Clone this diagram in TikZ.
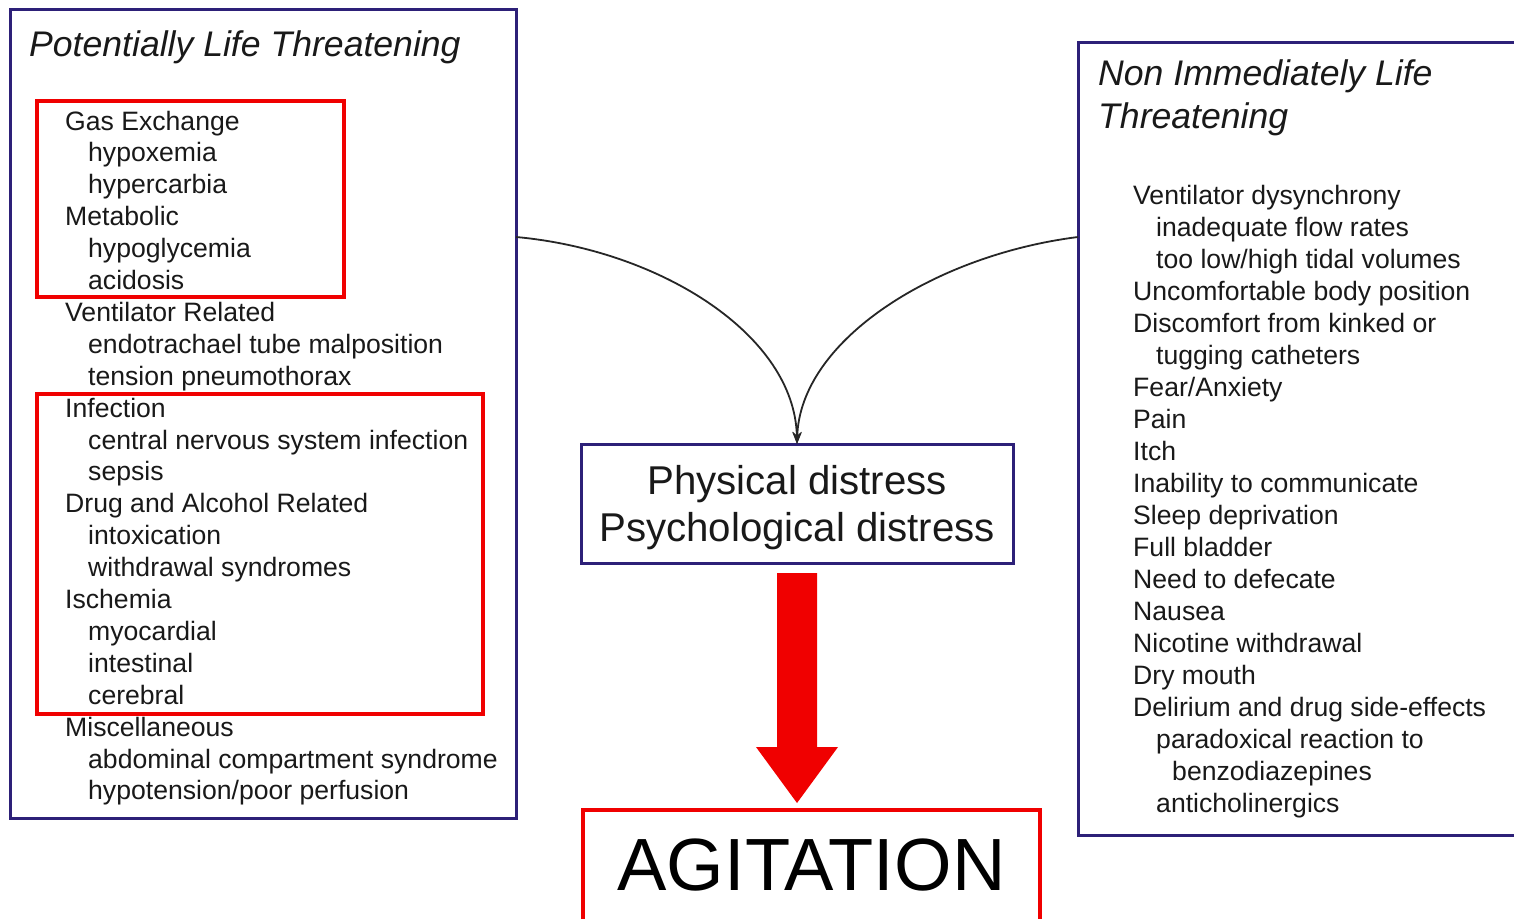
\documentclass[tikz,border=0pt]{standalone}
\usepackage{fontspec}
\setmainfont{Liberation Sans}
\usetikzlibrary{arrows.meta,calc}
\definecolor{framecol}{RGB}{45,32,120}
\definecolor{alertred}{RGB}{240,0,0}
\begin{document}
\begin{tikzpicture}[x=1pt,y=-1pt,
  panel/.style={draw=framecol,line width=3pt,anchor=north west,inner sep=0pt,outer sep=0pt},
  redbox/.style={draw=alertred,line width=4pt},
  item/.style={anchor=base west,inner sep=0pt,text=black!90,font=\fontsize{26.6}{32}\selectfont},
  heading/.style={anchor=base west,inner sep=0pt,text=black!90,font=\fontsize{35.6}{44}\selectfont\itshape},
  curve/.style={draw=black!85,line width=1.8pt,-{Stealth[length=12pt,width=9pt]}}
]
\useasboundingbox (0,0) rectangle (1514,918);
\fill[white] (0,0) rectangle (1514,918);

% panels
\node[panel,minimum width=506,minimum height=809] (left) at (10,9) {};
\node[panel,minimum width=470,minimum height=793] (right) at (1078,42) {};

% headings
\node[heading] (lt) at (29,56) {Potentially Life Threatening};
\node[heading] (rt1) at (1098,85) {Non Immediately Life};
\node[heading] (rt2) at (1098,128) {Threatening};

% red highlight frames
\draw[redbox] (37,101) rectangle (344,297);
\draw[redbox] (37,394) rectangle (483,714);

% left list
\foreach \lv/\txt [count=\i from 0] in {
  0/Gas Exchange, 23/hypoxemia, 23/hypercarbia,
  0/Metabolic, 23/hypoglycemia, 23/acidosis,
  0/Ventilator Related, 23/endotrachael tube malposition, 23/tension pneumothorax,
  0/Infection, 23/central nervous system infection, 23/sepsis,
  0/Drug and Alcohol Related, 23/intoxication, 23/withdrawal syndromes,
  0/Ischemia, 23/myocardial, 23/intestinal, 23/cerebral,
  0/Miscellaneous, 23/abdominal compartment syndrome, 23/{hypotension/poor perfusion}}
{
  \node[item] (L\i) at ({65+\lv},{130+31.9*\i}) {\txt};
}

% right list
\foreach \lv/\txt [count=\i from 0] in {
  0/Ventilator dysynchrony, 23/inadequate flow rates, 23/{too low/high tidal volumes},
  0/Uncomfortable body position, 0/Discomfort from kinked or, 23/tugging catheters,
  0/{Fear/Anxiety}, 0/Pain, 0/Itch, 0/Inability to communicate,
  0/Sleep deprivation, 0/Full bladder, 0/Need to defecate, 0/Nausea,
  0/Nicotine withdrawal, 0/Dry mouth, 0/Delirium and drug side-effects,
  23/paradoxical reaction to, 39/benzodiazepines, 23/anticholinergics}
{
  \node[item] (R\i) at ({1133+\lv},{204+32*\i}) {\txt};
}

% centre box
\node[panel,minimum width=432,minimum height=119,align=center,text=black!90,
      font=\fontsize{40.2}{47}\selectfont] (mid) at (581,444)
      {\rule{0pt}{37pt}Physical distress\\Psychological distress};

% agitation box
\node[draw=alertred,line width=4pt,anchor=north west,inner sep=0pt,outer sep=0pt,
      minimum width=457,minimum height=130,text height=53pt,text depth=22pt,
      text=black,font=\fontsize{74}{82}\selectfont] (agit) at (583,810) {AGITATION};

% connectors
\coordinate (ls) at (516,237);
\coordinate (rs) at (1078,237);
\draw[curve] (ls) .. controls (660,250) and (795,335) .. (mid.north);
\draw[curve] (rs) .. controls (935,255) and (800,340) .. (mid.north);

% big red arrow
\fill[alertred] ($(mid.south)+(-20,10)$) -- ($(mid.south)+(20,10)$)
  -- ($(mid.south)+(20,184)$) -- ($(mid.south)+(41,184)$)
  -- ($(agit.north -| mid.south)+(0,-7)$)
  -- ($(mid.south)+(-41,184)$) -- ($(mid.south)+(-20,184)$) -- cycle;
\end{tikzpicture}
\end{document}
